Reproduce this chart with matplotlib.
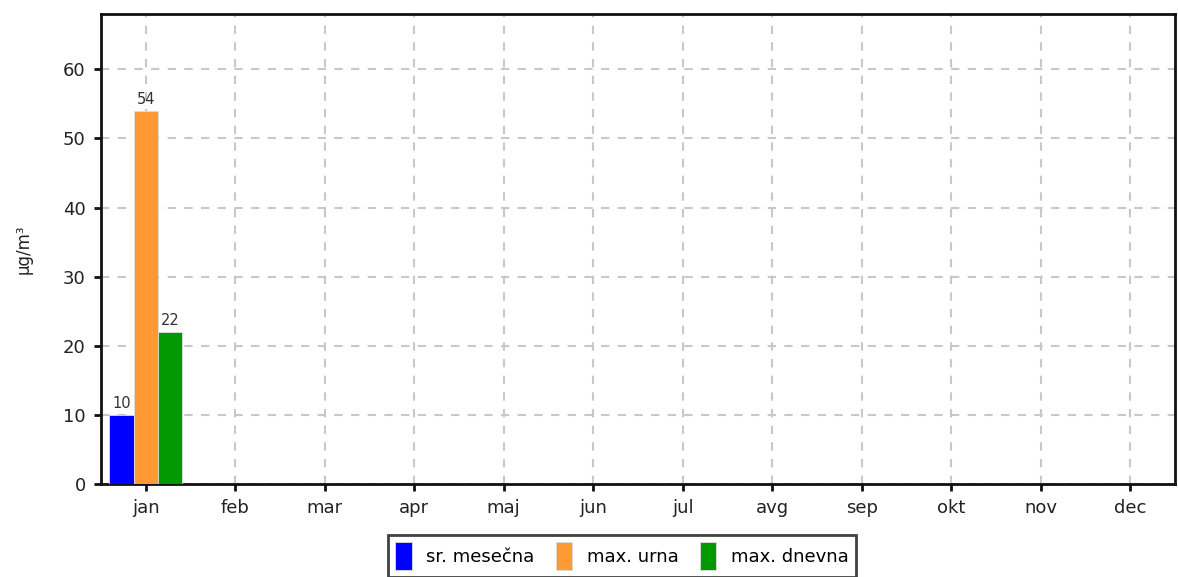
import matplotlib
matplotlib.use("Agg")
import matplotlib.pyplot as plt
import numpy as np

months = ["jan", "feb", "mar", "apr", "maj", "jun", "jul", "avg", "sep", "okt", "nov", "dec"]
series_names = ["sr. mesečna", "max. urna", "max. dnevna"]
sr_mesecna = [10] + [None] * 11
max_urna = [54] + [None] * 11
max_dnevna = [22] + [None] * 11
colors = ["#0000ff", "#ff9933", "#009900"]
yticks = [0, 10, 20, 30, 40, 50, 60]

fig = plt.figure(figsize=(11.78, 5.77), dpi=100)
ax = fig.add_axes([101/1178, 1-484/577, 1074/1178, 470/577])

x = np.arange(len(months))
w = 0.272
handles = []
for k, (vals, col, name) in enumerate(zip([sr_mesecna, max_urna, max_dnevna], colors, series_names)):
    xs = [xi + (k - 1) * w for xi, v in zip(x, vals) if v is not None]
    vs = [v for v in vals if v is not None]
    bars = ax.bar(xs, vs, width=w, color=col, edgecolor="#dddddd", linewidth=0.6, label=name, zorder=3)
    handles.append(bars)
    for xi, v in zip(xs, vs):
        ax.text(xi, v + 0.5, f"{v:g}", ha="center", va="bottom", fontsize=10.5, color="#333333", zorder=4)

ax.set_xlim(-0.5, 11.5)
ax.set_ylim(0, 68)
ax.set_xticks(x)
ax.set_xticklabels(months, fontsize=13, color="#222222")
ax.set_yticks(yticks)
ax.set_yticklabels([str(t) for t in yticks], fontsize=13, color="#222222")
ax.grid(True, color="#c8c8c8", linestyle=(0, (4, 4)), linewidth=1.5, zorder=0)
for s in ax.spines.values():
    s.set_linewidth(2)
    s.set_color("#111111")
ax.tick_params(axis="both", direction="out", length=5, width=2, color="#111111", pad=6)
ax.set_ylabel("µg/m³", fontsize=12, labelpad=22, color="#222222")

leg = fig.legend(handles=handles, labels=series_names, loc="upper center",
                 bbox_to_anchor=(622/1178, 1-535/577), ncol=3, fontsize=13,
                 frameon=True, fancybox=False, edgecolor="#111111", borderaxespad=0,
                 handlelength=0.9, handleheight=2.0, handletextpad=0.8,
                 columnspacing=1.2, borderpad=0.4)
leg.get_frame().set_linewidth(2)

fig.savefig("out.png", dpi=100)
